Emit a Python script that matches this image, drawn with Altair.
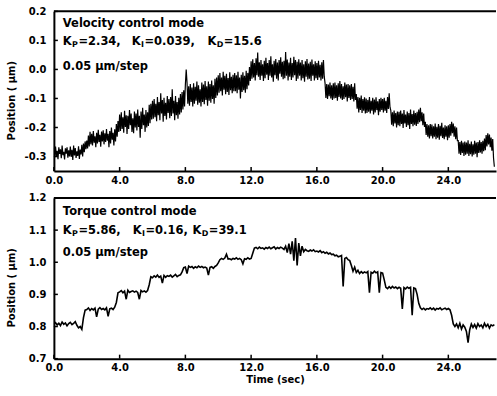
import altair as alt
import pandas as pd

# Sampling intervals of the recorded position traces (seconds)
VEL_DT = 0.05
TRQ_DT = 0.1

# Velocity control mode: stage position (um), one row per second
vel_pos = [
    -0.270, -0.302, -0.266, -0.298, -0.280, -0.309, -0.268, -0.291, -0.275, -0.306, -0.262, -0.295, -0.284, -0.310, -0.272, -0.290, -0.268, -0.304, -0.279, -0.300,
    -0.266, -0.301, -0.277, -0.312, -0.262, -0.296, -0.271, -0.305, -0.282, -0.298, -0.265, -0.308, -0.276, -0.293, -0.260, -0.300, -0.255, -0.285, -0.248, -0.275,
    -0.245, -0.272, -0.228, -0.265, -0.215, -0.258, -0.222, -0.262, -0.212, -0.252, -0.230, -0.268, -0.218, -0.255, -0.208, -0.250, -0.225, -0.266, -0.214, -0.248,
    -0.210, -0.258, -0.220, -0.250, -0.205, -0.245, -0.222, -0.268, -0.212, -0.255, -0.200, -0.242, -0.218, -0.262, -0.206, -0.248, -0.188, -0.232, -0.178, -0.215,
    -0.155, -0.212, -0.148, -0.205, -0.165, -0.218, -0.142, -0.198, -0.158, -0.222, -0.160, -0.205, -0.140, -0.192, -0.152, -0.215, -0.168, -0.220, -0.145, -0.200,
    -0.152, -0.210, -0.138, -0.198, -0.160, -0.235, -0.145, -0.205, -0.132, -0.192, -0.155, -0.215, -0.140, -0.200, -0.148, -0.195, -0.122, -0.185, -0.118, -0.172,
    -0.108, -0.170, -0.102, -0.165, -0.118, -0.178, -0.095, -0.158, -0.112, -0.175, -0.082, -0.152, -0.105, -0.180, -0.098, -0.160, -0.115, -0.172, -0.092, -0.150,
    -0.102, -0.168, -0.095, -0.160, -0.068, -0.152, -0.108, -0.175, -0.092, -0.158, -0.112, -0.170, -0.098, -0.155, -0.085, -0.148, -0.078, -0.138, -0.072, -0.128,
    -0.052, 0.000, -0.045, -0.118, -0.058, -0.125, -0.050, -0.112, -0.062, -0.128, -0.048, -0.118, -0.060, -0.108, -0.042, -0.122, -0.055, -0.115, -0.068, -0.128,
    -0.045, -0.112, -0.052, -0.120, -0.040, -0.105, -0.058, -0.125, -0.042, -0.108, -0.050, -0.115, -0.038, -0.102, -0.055, -0.118, -0.032, -0.098, -0.028, -0.090,
    -0.020, -0.080, -0.012, -0.075, -0.028, -0.090, -0.008, -0.070, -0.022, -0.085, -0.015, -0.078, -0.030, -0.088, -0.010, -0.072, -0.025, -0.082, -0.018, -0.075,
    -0.012, -0.075, -0.020, -0.082, -0.008, -0.070, -0.028, -0.100, -0.018, -0.078, -0.010, -0.072, -0.022, -0.080, -0.005, -0.068, -0.012, -0.055, 0.008, -0.040,
    0.028, -0.032, 0.035, -0.028, 0.022, -0.038, 0.038, -0.020, 0.058, -0.025, 0.025, -0.036, 0.032, -0.022, 0.018, -0.040, 0.030, -0.030, 0.040, -0.018,
    0.022, -0.036, 0.032, -0.022, 0.045, -0.028, 0.018, -0.042, 0.030, -0.020, 0.036, -0.032, 0.024, -0.038, 0.032, -0.015, 0.042, -0.025, 0.026, -0.034,
    0.030, -0.030, 0.060, -0.022, 0.034, -0.038, 0.024, -0.025, 0.040, -0.036, 0.022, -0.028, 0.044, -0.020, 0.032, -0.040, 0.026, -0.032, 0.035, -0.022,
    0.024, -0.038, 0.032, -0.030, 0.018, -0.042, 0.028, -0.025, 0.036, -0.035, 0.020, -0.032, 0.026, -0.040, 0.034, -0.022, 0.018, -0.038, 0.028, -0.030,
    0.022, -0.036, 0.030, -0.028, 0.016, -0.038, 0.025, -0.032, 0.032, -0.025, -0.048, -0.098, -0.050, -0.102, -0.052, -0.092, -0.045, -0.100, -0.055, -0.105,
    -0.048, -0.100, -0.045, -0.098, -0.055, -0.108, -0.048, -0.095, -0.040, -0.100, -0.050, -0.105, -0.058, -0.102, -0.045, -0.096, -0.052, -0.110, -0.050, -0.098,
    -0.055, -0.105, -0.050, -0.102, -0.060, -0.110, -0.048, -0.105, -0.085, -0.135, -0.095, -0.148, -0.098, -0.140, -0.090, -0.150, -0.102, -0.142, -0.096, -0.152,
    -0.100, -0.150, -0.105, -0.146, -0.095, -0.152, -0.108, -0.142, -0.098, -0.155, -0.104, -0.148, -0.096, -0.140, -0.110, -0.158, -0.102, -0.146, -0.098, -0.140,
    -0.102, -0.148, -0.098, -0.142, -0.108, -0.150, -0.095, -0.136, -0.082, -0.130, -0.142, -0.190, -0.148, -0.196, -0.142, -0.186, -0.150, -0.200, -0.145, -0.192,
    -0.146, -0.196, -0.142, -0.188, -0.152, -0.202, -0.140, -0.186, -0.155, -0.198, -0.145, -0.192, -0.150, -0.205, -0.138, -0.188, -0.154, -0.196, -0.142, -0.190,
    -0.150, -0.195, -0.146, -0.188, -0.138, -0.182, -0.132, -0.178, -0.148, -0.192, -0.152, -0.198, -0.180, -0.226, -0.188, -0.232, -0.192, -0.238, -0.188, -0.230,
    -0.190, -0.238, -0.196, -0.232, -0.186, -0.240, -0.198, -0.235, -0.188, -0.242, -0.194, -0.230, -0.184, -0.236, -0.200, -0.240, -0.192, -0.232, -0.196, -0.244,
    -0.192, -0.235, -0.188, -0.228, -0.180, -0.220, -0.186, -0.232, -0.196, -0.240, -0.200, -0.245, -0.245, -0.290, -0.250, -0.295, -0.246, -0.288, -0.252, -0.298,
    -0.248, -0.294, -0.252, -0.290, -0.244, -0.298, -0.256, -0.292, -0.248, -0.300, -0.258, -0.294, -0.246, -0.290, -0.252, -0.302, -0.250, -0.288, -0.244, -0.286,
    -0.250, -0.290, -0.246, -0.282, -0.238, -0.278, -0.226, -0.265, -0.220, -0.258, -0.224, -0.268, -0.235, -0.280, -0.240, -0.305, -0.335,
]

# Torque control mode: stage position (um), one row per second
trq_pos = [
    0.808, 0.812, 0.805, 0.810, 0.803, 0.814, 0.807, 0.811, 0.802, 0.809,
    0.813, 0.806, 0.810, 0.815, 0.804, 0.796, 0.800, 0.791, 0.828, 0.851,
    0.853, 0.858, 0.850, 0.856, 0.852, 0.857, 0.830, 0.854, 0.859, 0.853,
    0.856, 0.852, 0.858, 0.832, 0.855, 0.857, 0.853, 0.860, 0.875, 0.905,
    0.908, 0.912, 0.905, 0.910, 0.885, 0.913, 0.906, 0.909, 0.911, 0.907,
    0.910, 0.906, 0.885, 0.912, 0.908, 0.911, 0.907, 0.912, 0.930, 0.955,
    0.952, 0.958, 0.954, 0.960, 0.953, 0.957, 0.935, 0.959, 0.953, 0.958,
    0.956, 0.960, 0.954, 0.958, 0.962, 0.955, 0.959, 0.961, 0.970, 0.983,
    0.985, 0.965, 0.988, 0.984, 0.987, 0.981, 0.986, 0.983, 0.988, 0.984,
    0.987, 0.983, 0.985, 0.982, 0.960, 0.984, 0.986, 0.981, 0.987, 0.990,
    0.998, 1.008, 1.012, 1.009, 1.013, 1.025, 1.010, 1.011, 1.008, 1.012,
    1.010, 1.014, 1.009, 1.012, 1.008, 0.995, 1.011, 1.009, 1.014, 1.010,
    1.012, 1.028, 1.044, 1.046, 1.042, 1.047, 1.043, 1.045, 1.041, 1.046,
    1.043, 1.047, 1.042, 1.045, 1.048, 1.041, 1.046, 1.043, 1.047, 1.044,
    1.040, 1.050, 1.030, 1.058, 1.025, 1.065, 1.005, 1.075, 0.990, 1.060,
    1.020, 1.050, 1.033, 1.040, 1.036, 1.034, 1.038, 1.035, 1.039, 1.033,
    1.035, 1.032, 1.036, 1.030, 1.033, 1.028, 1.031, 1.026, 1.029, 1.024,
    1.025, 1.020, 1.022, 1.017, 1.019, 1.021, 0.925, 1.012, 1.015, 1.008,
    1.005, 0.990, 0.972, 0.985, 0.968, 0.975, 0.965, 0.971, 0.966, 0.970,
    0.967, 0.971, 0.905, 0.969, 0.966, 0.972, 0.967, 0.970, 0.905, 0.968,
    0.966, 0.945, 0.922, 0.918, 0.924, 0.919, 0.925, 0.920, 0.923, 0.918,
    0.922, 0.919, 0.855, 0.921, 0.917, 0.923, 0.919, 0.922, 0.835, 0.920,
    0.918, 0.900, 0.872, 0.858, 0.853, 0.857, 0.852, 0.856, 0.854, 0.858,
    0.853, 0.857, 0.851, 0.856, 0.854, 0.858, 0.852, 0.855, 0.857, 0.853,
    0.856, 0.852, 0.835, 0.808, 0.800, 0.808, 0.796, 0.810, 0.792, 0.805,
    0.798, 0.785, 0.750, 0.790, 0.808, 0.797, 0.806, 0.795, 0.809, 0.800,
    0.805, 0.796, 0.810, 0.800, 0.807, 0.795, 0.805, 0.802, 0.806,
]

time_ticks = [0, 4, 8, 12, 16, 20, 24]
vel_ticks = [-0.3, -0.2, -0.1, 0.0, 0.1, 0.2]
trq_ticks = [0.7, 0.8, 0.9, 1.0, 1.1, 1.2]

vel_gains = [("P", "=2.34,"), ("I", "=0.039,"), ("D", "=15.6")]
trq_gains = [("P", "=5.86,"), ("I", "=0.16,"), ("D", "=39.1")]

FONT = "DejaVu Sans"
W = 443
T_MAX = 26.9
SUB_W = {"P": 6.0, "I": 3.2, "D": 6.6}


def blank():
    return alt.Chart(alt.Data(values=[{}]))


def label(text, x, y, size=11.5):
    return blank().mark_text(
        align="left", baseline="middle", font=FONT, fontWeight="bold",
        fontSize=size, color="black",
    ).encode(x=alt.value(x), y=alt.value(y), text=alt.value(text))


def panel(values, dt, width_px, y_domain, y_ticks, h, mode, gains, gain_x, text_y, x_title):
    df = pd.DataFrame({
        "t": [round(i * dt, 2) for i in range(len(values))],
        "pos": values,
    })
    x_scale = alt.Scale(domain=[0, T_MAX], nice=False, zero=False)
    y_scale = alt.Scale(domain=y_domain, nice=False, zero=False)
    x_axis = alt.Axis(
        values=time_ticks, format=".1f", ticks=False, grid=False,
        domainWidth=2, domainColor="black", labelPadding=4,
        labelFlush=False, labelOverlap=False, title=x_title, titlePadding=2,
    )
    y_axis = alt.Axis(
        values=y_ticks, labelExpr="replace(format(datum.value, '.1f'), '\u2212', '-')",
        ticks=False, grid=False, domainWidth=2, domainColor="black",
        labelPadding=8, labelFlush=False, labelOverlap=False,
        title="Position (  \u03bcm)", titleX=-42, titleY=h / 2 + 9,
        titleBaseline="middle", titleAngle=270,
    )
    x_enc = alt.X("t:Q", scale=x_scale, axis=x_axis, title=x_title)
    y_enc = alt.Y("pos:Q", scale=y_scale, axis=y_axis, title="Position (  \u03bcm)")
    trace = alt.Chart(df).mark_line(color="black", strokeWidth=width_px, clip=True).encode(
        x=x_enc, y=y_enc,
    )
    # inward tick marks along the bottom and left frame
    x_marks = alt.Chart(pd.DataFrame({"t": time_ticks})).mark_rule(
        color="black", strokeWidth=1.5
    ).encode(x=x_enc, y=alt.value(h), y2=alt.value(h - 4))
    y_marks = alt.Chart(pd.DataFrame({"pos": y_ticks})).mark_rule(
        color="black", strokeWidth=1.5
    ).encode(y=y_enc, x=alt.value(0), x2=alt.value(4))
    top_edge = blank().mark_rule(color="black", strokeWidth=2).encode(
        x=alt.value(0), x2=alt.value(W), y=alt.value(0)
    )
    layers = [trace, x_marks, y_marks, top_edge]
    layers.append(label(mode, 9, text_y[0]))
    for (sub, rest), gx in zip(gains, gain_x):
        layers.append(label("K", gx, text_y[1]))
        layers.append(label(sub, gx + 9.2, text_y[1] + 3, size=8))
        layers.append(label(rest, gx + 9.6 + SUB_W[sub], text_y[1]))
    layers.append(label("0.05 \u03bcm/step", 9, text_y[2]))
    return alt.layer(*layers).properties(width=W, height=h)


top = panel(vel_pos, VEL_DT, 1.2, [-0.35, 0.2], vel_ticks, 160, "Velocity control mode",
            vel_gains, [9, 78, 154], [13, 31, 56], None)
bottom = panel(trq_pos, TRQ_DT, 1.6, [0.7, 1.2], trq_ticks, 161, "Torque control mode",
               trq_gains, [9, 79, 139], [14, 33, 55], "Time (sec)")

chart = alt.vconcat(top, bottom, spacing=27, bounds="flush").properties(
    padding={"left": 7, "top": 6, "right": 0, "bottom": 0},
).configure_view(stroke=None).configure_axis(
    labelFont=FONT, labelFontSize=10, labelFontWeight="bold", labelColor="black",
    titleFont=FONT, titleFontSize=10, titleFontWeight="bold", titleColor="black",
)

chart.save("out.html", embed_options={"renderer": "svg", "actions": False})
